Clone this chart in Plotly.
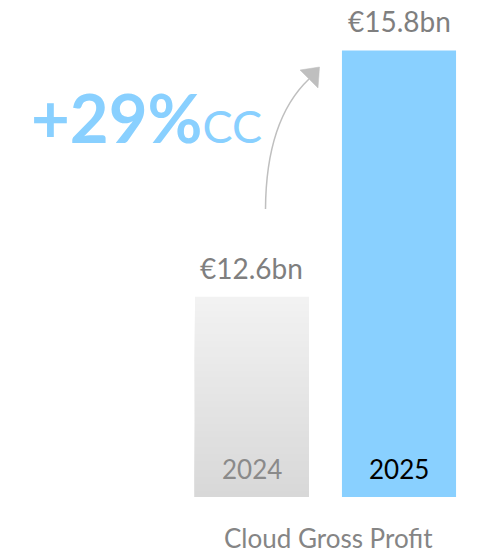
import plotly.graph_objects as go

# ---- data ----
years = ["2024", "2025"]
values = [12.6, 15.8]
value_labels = ["€12.6bn", "€15.8bn"]
growth_main = "+29%"
growth_suffix = "CC"
metric_name = "Cloud Gross Profit"
axis_floor = 10.0
axis_top = 16.3

# ---- layout geometry ----
W, H = 480, 555
ML, MR, MT, MB = 0, 0, 12, 58
PW, PH = W - ML - MR, H - MT - MB
FONT = "Lato"
BAR_W = 0.776


def pxp(x):
    return (x - ML) / PW


def pyp(y):
    return (H - MB - y) / PH


def lerp_hex(c1, c2, t):
    a = [int(c1[i:i + 2], 16) for i in (1, 3, 5)]
    b = [int(c2[i:i + 2], 16) for i in (1, 3, 5)]
    return "#" + "".join(f"{round(a[k] + (b[k] - a[k]) * t):02x}" for k in range(3))


fig = go.Figure()

# 2024 bar with vertical gradient (layered overlapping bars)
N = 60
light, dark = "#f2f2f2", "#d8d8d8"
v0 = values[0] - axis_floor
seg_y = [v0 * (1 - i / N) for i in range(N)]
seg_c = [lerp_hex(light, dark, i / (N - 1)) for i in range(N)]
fig.add_trace(go.Bar(
    x=[years[0]] * N, y=seg_y, base=[axis_floor] * N,
    marker=dict(color=seg_c, line=dict(width=0)),
    width=[BAR_W] * N, hoverinfo="skip", showlegend=False,
))

# 2025 bar
fig.add_trace(go.Bar(
    x=[years[1]], y=[values[1] - axis_floor], base=[axis_floor],
    marker=dict(color="#89d0ff", line=dict(width=0)),
    width=[BAR_W], showlegend=False,
))

annotations = []
# value labels above bars
for i, (v, lab) in enumerate(zip(values, value_labels)):
    annotations.append(dict(
        x=i, y=v, xref="x", yref="y", text=lab, showarrow=False,
        yanchor="bottom", yshift=10,
        font=dict(family=FONT, size=28, color="#7f7f7f"),
    ))
# year labels inside bars
year_colors = ["#8a8a8a", "#000000"]
for i, (yr, c) in enumerate(zip(years, year_colors)):
    annotations.append(dict(
        x=i, y=axis_floor, xref="x", yref="y", text=yr, showarrow=False,
        yanchor="bottom", yshift=10,
        font=dict(family=FONT, size=26, color=c),
    ))
# growth label
annotations.append(dict(
    x=pxp(29), y=pyp(117), xref="paper", yref="paper",
    text=f"<b>{growth_main}</b><span style='font-size:45px'>{growth_suffix}</span>",
    showarrow=False, xanchor="left", yanchor="middle",
    font=dict(family=FONT, size=67, color="#89d0ff"),
))
# metric name
annotations.append(dict(
    x=pxp(328), y=pyp(H), xref="paper", yref="paper", text=metric_name,
    showarrow=False, xanchor="center", yanchor="bottom", borderpad=0,
    font=dict(family=FONT, size=26, color="#858585"),
))

curve = (f"M {pxp(265.5)},{pyp(209)} Q {pxp(266)},{pyp(120)} {pxp(309)},{pyp(79)}")
head = (f"M {pxp(300)},{pyp(70)} L {pxp(319.5)},{pyp(67)} L {pxp(318)},{pyp(88)} Z")
shapes = [
    dict(type="path", path=curve, xref="paper", yref="paper",
         line=dict(color="#bfbfbf", width=1.5)),
    dict(type="path", path=head, xref="paper", yref="paper",
         line=dict(color="#bfbfbf", width=0.5), fillcolor="#bfbfbf"),
]

fig.update_layout(
    width=W, height=H,
    margin=dict(l=ML, r=MR, t=MT, b=MB),
    paper_bgcolor="white", plot_bgcolor="white",
    barmode="overlay",
    xaxis=dict(type="category", categoryorder="array", categoryarray=years,
               range=[-1.714, 1.551], visible=False, fixedrange=True),
    yaxis=dict(range=[axis_floor, axis_top], visible=False, fixedrange=True),
    annotations=annotations, shapes=shapes,
    showlegend=False,
)

fig.write_html("out.html", config={"displayModeBar": False},
               post_script="document.body.style.margin='0';document.body.style.overflow='hidden';")
